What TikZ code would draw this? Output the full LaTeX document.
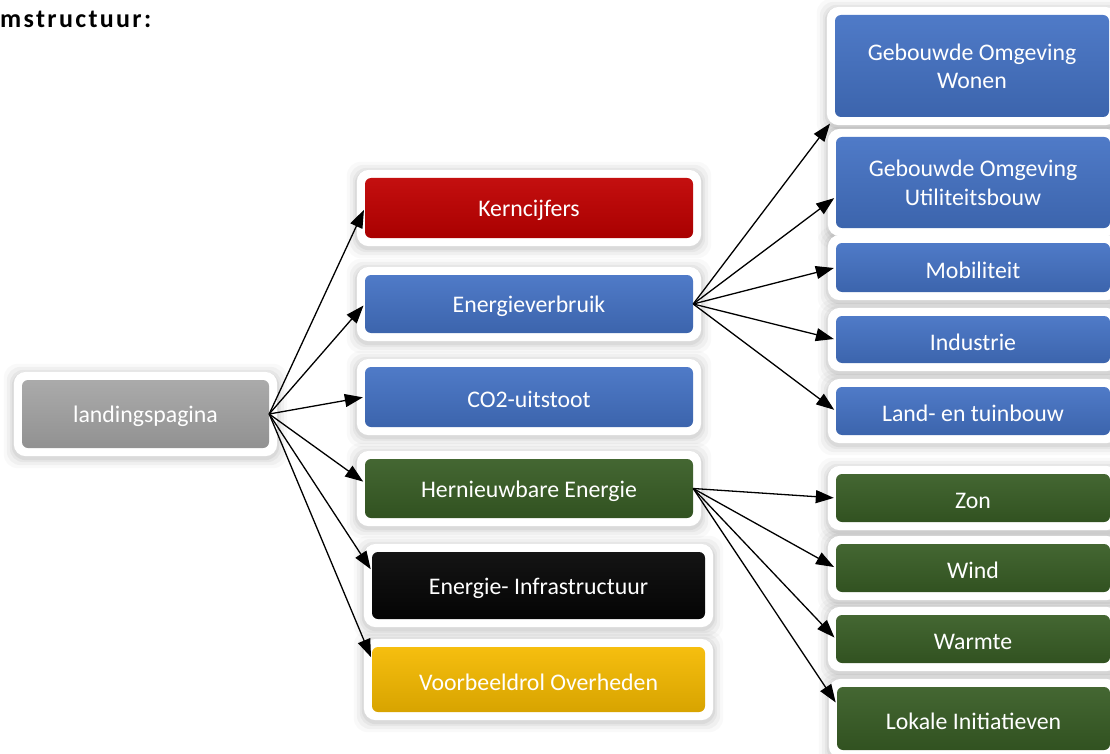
\documentclass[tikz,border=0pt]{standalone}
\usepackage{fontspec}
\setmainfont{Carlito}
\newfontfamily\kopfont[LetterSpace=9]{Carlito}
\usetikzlibrary{calc,arrows.meta,backgrounds}
\definecolor{grijs}{HTML}{A5A5A5}
\definecolor{rood}{HTML}{C00000}
\definecolor{blauw}{HTML}{4472C4}
\definecolor{groen}{HTML}{385D25}
\definecolor{zwart}{HTML}{050505}
\definecolor{geel}{HTML}{F5BA00}

\begin{document}
\begin{tikzpicture}[x=1pt,y=-1pt,
		tegel/.style={rectangle,rounded corners=6pt,inner sep=0pt,align=center,text=white,text height=22pt,
			font=\fontsize{23.8}{28.5}\selectfont,top color=#1!94!white,bottom color=#1!88!black},
		twee/.style={text height=,text depth=0pt},
		midden/.style={minimum width=328pt},
		rechts/.style={minimum width=274pt},
		pijl/.style={-{Triangle[length=18pt,width=13pt]},line width=1.3pt,shorten >=2pt}]
		\useasboundingbox (0,0) rectangle (1110,754);
		
		\node[anchor=base west,inner sep=0pt,font=\kopfont\bfseries\fontsize{26}{30}\selectfont] (kop) at (0,28) {mstructuur:};
		
		\node[tegel=grijs,minimum width=247pt,minimum height=68pt] (land) at (145.5,414) {landingspagina};
		
		\node[tegel=rood,midden,minimum height=60pt] (kern) at (529,208) {Kerncijfers};
		\node[tegel=blauw,midden,minimum height=58pt] (verbr) at (529,304) {Energieverbruik};
		\node[tegel=blauw,midden,minimum height=60pt] (co2) at (529,397) {CO2-uitstoot};
		\node[tegel=groen,midden,minimum height=59pt] (hern) at (529,488.5) {Hernieuwbare Energie};
		\node[tegel=zwart,minimum width=333pt,minimum height=67pt] (infra) at (538.5,585.5) {Energie- Infrastructuur};
		\node[tegel=geel,minimum width=333pt,minimum height=65pt] (voorb) at (538.5,679.5) {Voorbeeldrol Overheden};
		
		\node[tegel=blauw,twee,rechts,minimum height=102pt] (wonen) at (972,66) {Gebouwde Omgeving\\Wonen};
		\node[tegel=blauw,twee,rechts,minimum height=91pt] (util) at (973,182.5) {Gebouwde Omgeving\\Utiliteitsbouw};
		\node[tegel=blauw,rechts,minimum height=49pt] (mobil) at (973,267.5) {Mobiliteit};
		\node[tegel=blauw,rechts,minimum height=47pt] (indus) at (973,339.5) {Industrie};
		\node[tegel=blauw,rechts,minimum height=48pt] (tuin) at (973,411) {Land- en tuinbouw};
		
		\node[tegel=groen,rechts,minimum height=48pt] (zon) at (973,498) {Zon};
		\node[tegel=groen,rechts,minimum height=48pt] (wind) at (973,568) {Wind};
		\node[tegel=groen,rechts,minimum height=48pt] (warmte) at (973,639) {Warmte};
		\node[tegel=groen,minimum width=273pt,minimum height=63pt] (lokale) at (973.5,718.5) {Lokale Initiatieven};
		
		\begin{scope}[on background layer]
			\foreach \n in {land,kern,verbr,co2,hern,infra,voorb,wonen,util,mobil,indus,tuin,zon,wind,warmte,lokale}
				\foreach \s/\o in {18/.025,15/.035,12/.045,10/.05}
					\fill[black,opacity=\o,rounded corners=14pt] ($(\n.south west)+(-\s,\s+2)$) rectangle ($(\n.north east)+(\s,-\s+2)$);
			\foreach \n in {land,kern,verbr,co2,hern,infra,voorb,wonen,util,mobil,indus,tuin,zon,wind,warmte,lokale}
				\fill[white,rounded corners=12pt] ($(\n.south west)+(-8,8)$) rectangle ($(\n.north east)+(8,-8)$);
		\end{scope}
		
		\draw[pijl] (land.east) -- (kern.west);
		\draw[pijl] (land.east) -- (verbr.west);
		\draw[pijl] (land.east) -- (co2.west);
		\draw[pijl] (land.east) -- (hern.178);
		\draw[pijl] (land.east) -- (infra.175);
		\draw[pijl] (land.east) -- (voorb.173);
		
		\draw[pijl,shorten >=8pt] (verbr.east) -- (wonen.south west);
		\draw[pijl] (verbr.east) -- (util.186);
		\draw[pijl] (verbr.east) -- (mobil.west);
		\draw[pijl] (verbr.east) -- (indus.west);
		\draw[pijl] (verbr.east) -- (tuin.west);
		
		\draw[pijl] (hern.east) -- (zon.west);
		\draw[pijl] (hern.east) -- (wind.west);
		\draw[pijl] (hern.east) -- (warmte.west);
		\draw[pijl] (hern.east) -- (lokale.174);
\end{tikzpicture}
\end{document}
